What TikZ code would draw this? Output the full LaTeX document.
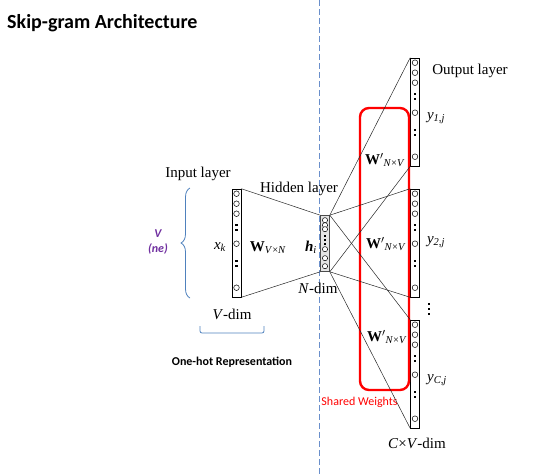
\documentclass[tikz,border=0pt]{standalone}
\usepackage{fontspec}
\setmainfont{Liberation Serif}
\newfontfamily\calibri{Carlito}
\usetikzlibrary{decorations.pathreplacing}
\definecolor{dashblue}{HTML}{6A8FCB}
\definecolor{braceblue}{HTML}{4F81BD}
\definecolor{nepurple}{HTML}{7030A0}
\newcommand{\lsub}[1]{\textsubscript{\textit{#1}}}
\begin{document}
\begin{tikzpicture}[x=1pt,y=-1pt,
  every node/.style={font=\fontsize{15}{18}\selectfont,inner sep=0pt},
  layer/.style={draw,line width=0.6pt,minimum width=9pt,minimum height=108pt},
  link/.style={black!85,line width=0.5pt}]
\useasboundingbox (0,0) rectangle (557,474);
\node[anchor=base west,font=\calibri\bfseries\fontsize{20}{24}\selectfont] (title) at (7,28) {Skip-gram Architecture};
\draw[dashblue,line width=0.7pt,dash pattern=on 6pt off 3pt] (319,0) -- (319,474);
% layers
\node[layer] (input) at (236.5,243) {};
\node[layer,minimum height=56pt,fill=black!10,draw=black!70] (hidden) at (325,243.5) {};
\node[layer] (out1) at (415,112) {};
\node[layer] (out2) at (415,243) {};
\node[layer] (out3) at (415,374) {};
\foreach \c in {input,out1,out2,out3}{
  \foreach \d in {5,15,25,55,99} \draw[line width=0.5pt] (\c.north) ++(0,\d) circle (2.8pt);
  \foreach \d in {36,41,72,77} \fill (\c.north) ++(0,\d) +(-1.2,-1.2) rectangle +(1.2,1.2);
}
\foreach \d in {5,10,14,34,43,51} \draw[line width=0.5pt,fill=white] (hidden.north) ++(0,\d) circle (2.6pt);
\foreach \d in {21,25,29} \fill (hidden.north) ++(0,\d) +(-1.1,-1.1) rectangle +(1.1,1.1);
% dots between the output groups
\foreach \d in {304,309,314} \fill (429,\d) +(-1.2,-1.2) rectangle +(1.2,1.2);
% shared weights box
\node[draw=red,line width=2.4pt,rounded corners=9pt,minimum width=49pt,minimum height=282pt] (shared) at (384.5,249) {};
\node[text=red,font=\calibri\fontsize{12}{14}\selectfont] (sharedlbl) at (359.5,402) {Shared Weights};
% connections
\draw[link] (input.north east) -- (hidden.north west);
\draw[link] (input.south east) -- (hidden.south west);
\foreach \o in {out1,out2,out3}{
  \draw[link] (hidden.north east) -- (\o.north west);
  \draw[link] (hidden.south east) -- (\o.south west);
}
% labels
\node (inlbl) at (198,174) {Input layer};
\node (hidlbl) at (299,189) {Hidden layer};
\node (outlbl) at (470,71) {Output layer};
\node (xk) at (220,247) {\textit{x}\lsub{k}};
\node (wvn) at (268,248) {\textbf{W}\textsubscript{\textit{V}×\textit{N}}};
\node (hi) at (311,247) {\textbf{\textit{h}}\lsub{i}};
\node (ndim) at (318,288) {\textit{N}-dim};
\node (vdim) at (232,314) {\textit{V}-dim};
\node (cvdim) at (417,443) {\textit{C}×\textit{V}-dim};
\node (w1) at (385,160) {\textbf{W}$'$\textsubscript{\textit{N}×\textit{V}}};
\node (w2) at (386,244) {\textbf{W}$'$\textsubscript{\textit{N}×\textit{V}}};
\node (w3) at (387,337) {\textbf{W}$'$\textsubscript{\textit{N}×\textit{V}}};
\node (y1) at (436,118) {\textit{y}\lsub{1,j}};
\node (y2) at (436,242) {\textit{y}\lsub{2,j}};
\node (yc) at (437,380) {\textit{y}\lsub{C,j}};
% brace and bracket
\draw[braceblue,line width=0.8pt,decorate,decoration={brace,amplitude=9pt}] (190,298) -- (190,188);
\node[text=nepurple,align=center,font=\calibri\bfseries\itshape\fontsize{12}{15}\selectfont] (vne) at (158,242) {V\\(ne)};
\draw[braceblue,line width=0.8pt,rounded corners=2pt] (200,326) -- (200,333) -- (264,333) -- (264,326);
\node[font=\calibri\bfseries\fontsize{12}{14}\selectfont] (onehot) at (232,362) {One-hot Representation};
\end{tikzpicture}
\end{document}
